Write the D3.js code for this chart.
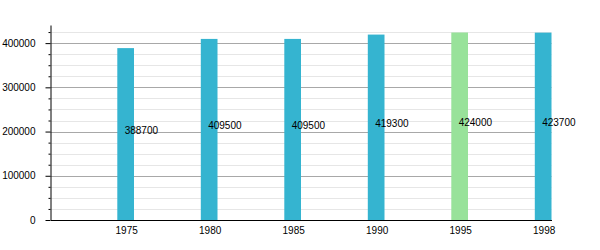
<!DOCTYPE html>
<html lang="en">
<head>
  <meta charset="UTF-8">
  <title>Population bar chart</title>
  <script src="https://d3js.org/d3.v7.min.js"></script>
  <style>
    body { margin: 0; background: #fff; }
    text { font-family: "Liberation Sans", Arial, sans-serif; font-size: 10px; fill: #000; }
    .domain { stroke: #000; }
  </style>
</head>
<body>
  <svg id="chart" width="600" height="250"></svg>

  <script>
    // Data
    const years = ["1975", "1980", "1985", "1990", "1995", "1998"];
    const population = [388700, 409500, 409500, 419300, 424000, 423700];
    const highlightYear = "1995";
    const yTicks = [0, 100000, 200000, 300000, 400000];

    const width = 600;
    const height = 250;
    const margin = { top: 25, right: 49, bottom: 30, left: 50 };
    const innerW = width - margin.left - margin.right;
    const innerH = height - margin.top - margin.bottom;

    const svg = d3.select("#chart");
    const g = svg.append("g")
      .attr("transform", `translate(${margin.left + 0.5},${margin.top})`);

    // Scales
    const x = d3.scaleBand()
      .domain(years)
      .range([0, innerW]);
    const barW = x.bandwidth() * 0.2;
    const barX = (d) => x(d) + x.bandwidth() - barW;

    const y = d3.scaleLinear()
      .domain([0, d3.max(population) * 1.04])
      .range([innerH, 0]);

    // Grid lines, minor every 25000 and major every 100000
    const minor = d3.range(25000, y.domain()[1], 25000).filter((v) => v % 100000 !== 0);
    g.append("g").selectAll("line")
      .data(minor)
      .enter()
      .append("line")
      .attr("x1", 0).attr("x2", innerW)
      .attr("y1", (d) => Math.round(y(d)) + 0.5)
      .attr("y2", (d) => Math.round(y(d)) + 0.5)
      .attr("stroke", "#e6e6e6");
    g.append("g").selectAll("line")
      .data(yTicks.slice(1))
      .enter()
      .append("line")
      .attr("x1", 0).attr("x2", innerW)
      .attr("y1", (d) => Math.round(y(d)) + 0.5)
      .attr("y2", (d) => Math.round(y(d)) + 0.5)
      .attr("stroke", "#a8a8a8");

    // Bars
    const data = years.map((yr, i) => ({ year: yr, value: population[i] }));
    g.selectAll("rect.bar")
      .data(data)
      .enter()
      .append("rect")
      .attr("class", "bar")
      .attr("x", (d) => barX(d.year))
      .attr("width", barW)
      .attr("y", (d) => y(d.value))
      .attr("height", (d) => innerH - y(d.value))
      .attr("fill", (d) => d.year === highlightYear ? "#98e29a" : "#35b4d0");

    // Value labels
    g.selectAll("text.val")
      .data(data)
      .enter()
      .append("text")
      .attr("class", "val")
      .attr("x", (d) => barX(d.year) + barW / 2 - 1)
      .attr("y", (d) => y(d.value / 2))
      .text((d) => d.value);

    // Y axis with minor ticks
    g.append("g")
      .call(d3.axisLeft(y).tickValues(minor).tickSize(2).tickFormat(""))
      .call((a) => a.select(".domain").remove());
    g.append("g")
      .call(d3.axisLeft(y).tickValues(yTicks).tickSize(5).tickPadding(10)
        .tickSizeOuter(0).tickFormat(d3.format("d")))
      .call((a) => a.selectAll("text").style("font-size", "10px"));

    // X axis, labels under the bars
    const xAxis = g.append("g")
      .attr("transform", `translate(0,${innerH})`)
      .call(d3.axisBottom(x).tickSize(0).tickSizeOuter(0).tickPadding(7));
    xAxis.selectAll(".tick")
      .attr("transform", (d) => `translate(${barX(d) + barW / 2 + 1},0)`);
    xAxis.selectAll("text").style("font-size", "10px");
  </script>
</body>
</html>
